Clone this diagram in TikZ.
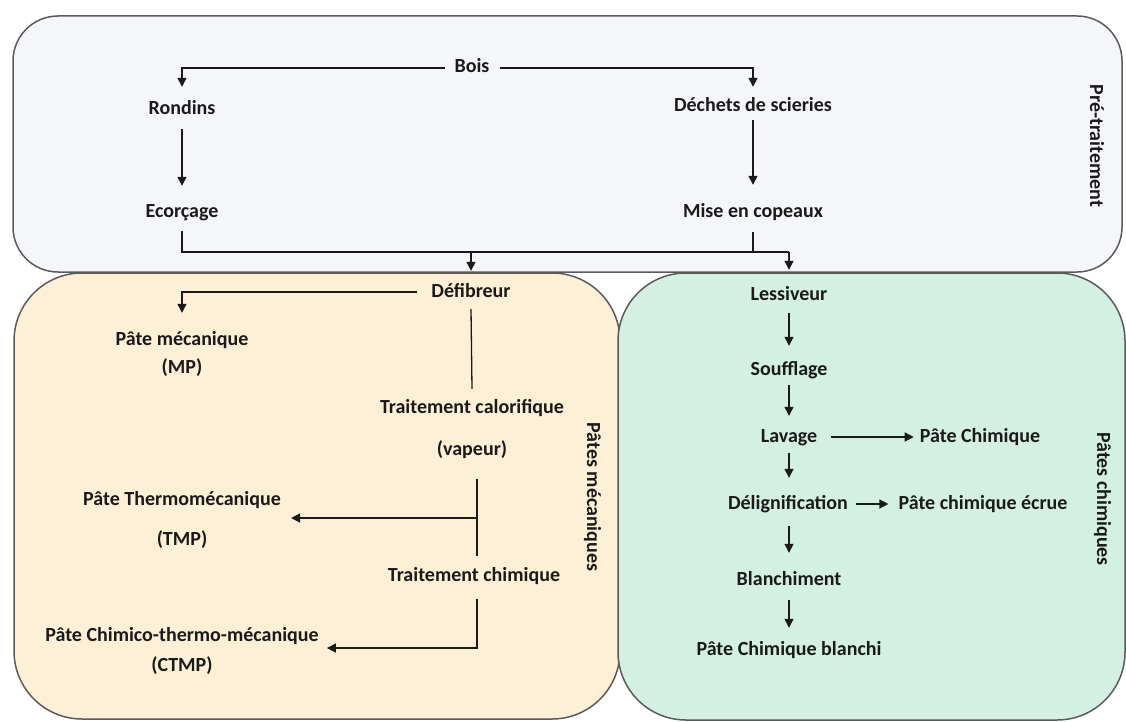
\documentclass[tikz,border=0pt]{standalone}
\usepackage{fontspec}
\setmainfont{Carlito}
\usetikzlibrary{arrows.meta,calc}
\definecolor{topfill}{HTML}{F5F6FA}
\definecolor{mechfill}{HTML}{FDF0D6}
\definecolor{chemfill}{HTML}{D4F0E3}
\definecolor{boxline}{HTML}{5A5A5A}
\definecolor{ink}{HTML}{1A1A1A}
\begin{document}
\begin{tikzpicture}[x=1pt,y=-1pt,
  txt/.style={font=\fontsize{20}{24}\selectfont\bfseries, text=ink, inner sep=0pt, text height=14pt, text depth=4pt},
  side/.style={txt, rotate=-90},
  ln/.style={draw=ink, line width=1.3pt},
  arr/.style={ln, -{Triangle[length=9pt,width=9pt]}},
  panel/.style={draw=boxline, line width=1.5pt}]
\useasboundingbox (0,0) rectangle (1126,722);
% panels
\draw[panel, fill=topfill, rounded corners=45pt] (13,16) rectangle (1122,272);
\draw[panel, fill=mechfill, rounded corners=68pt] (14,273) rectangle (620,719);
\draw[panel, fill=chemfill, rounded corners=68pt] (618,273) rectangle (1125,720);
% top nodes
\node[txt] (bois) at (472,68) {Bois};
\node[txt] (ron) at (182,110) {Rondins};
\node[txt] (dec) at (753,107) {Déchets de scieries};
\node[txt] (eco) at (182,212) {Ecorçage};
\node[txt] (mise) at (753,212) {Mise en copeaux};
\node[side] (pre) at (1095,146) {Pré-traitement};
% mechanical nodes
\node[txt] (defi) at (471,292) {Défibreur};
\node[txt] (mp1) at (182,340) {Pâte mécanique};
\node[txt] (mp2) at (182,368) {(MP)};
\node[txt] (cal) at (472,408) {Traitement calorifique};
\node[txt] (vap) at (472,450) {(vapeur)};
\node[txt] (tmp1) at (182,500) {Pâte Thermomécanique};
\node[txt] (tmp2) at (182,540) {(TMP)};
\node[txt] (tch) at (474,576) {Traitement chimique};
\node[txt] (ctmp1) at (182,636) {Pâte Chimico-thermo-mécanique};
\node[txt] (ctmp2) at (182,666) {(CTMP)};
\node[side] (pm) at (592,497) {Pâtes mécaniques};
% chemical nodes
\node[txt] (less) at (789,295) {Lessiveur};
\node[txt] (souf) at (789,370) {Soufflage};
\node[txt] (lav) at (789,437) {Lavage};
\node[txt] (pc) at (980,437) {Pâte Chimique};
\node[txt] (del) at (788,504) {Délignification};
\node[txt] (pce) at (983,504) {Pâte chimique écrue};
\node[txt] (blan) at (789,580) {Blanchiment};
\node[txt] (pcb) at (789,650) {Pâte Chimique blanchi};
\node[side] (pch) at (1102,499) {Pâtes chimiques};
% junctions
\coordinate (jr) at (789,252);
\coordinate (ja) at (477,479);
\coordinate (jb) at (477,556);
\coordinate (jt) at (477,518);
\coordinate (jc) at (477,648);
% top connectors
\draw[arr] ([xshift=-9pt]bois.west) -| ([yshift=14pt]ron.north);
\draw[arr] ([xshift=10pt]bois.east) -| ([yshift=11pt]dec.north);
\draw[arr] ([yshift=-10pt]ron.south) -- ([yshift=17pt]eco.north);
\draw[arr] ([yshift=-4pt]dec.south) -- ([yshift=18pt]mise.north);
\draw[ln] ([yshift=-10pt]eco.south) |- (jr);
\draw[ln] ([yshift=-11pt]mise.south) -- (mise.south |- jr);
\draw[arr] (defi.north |- jr) -- ([yshift=12pt]defi.north);
\draw[arr] (jr) -- ([yshift=16pt]less.north);
% mechanical connectors
\draw[arr] ([xshift=-14pt]defi.west) -| ([yshift=18pt]mp1.north);
\draw[ln] ([yshift=-8pt]defi.south) -- ([yshift=10pt]cal.north);
\draw[ln] (ja) -- (jb);
\draw[arr] (jt) -- ([xshift=10pt]tmp1.east |- jt);
\draw[arr] ([yshift=-14pt]tch.south -| jc) -- (jc) -- ([xshift=8pt]ctmp1.east |- jc);
% chemical connectors
\draw[arr] ([yshift=-9pt]less.south) -- ([yshift=15pt]souf.north);
\draw[arr] ([yshift=-6pt]souf.south) -- ([yshift=12pt]lav.north);
\draw[arr] ([yshift=-7pt]lav.south) -- ([yshift=17pt]del.north -| lav.south);
\draw[arr] ([yshift=-13pt]del.south -| lav.south) -- ([yshift=18pt]blan.north);
\draw[arr] ([yshift=-11pt]blan.south) -- ([yshift=13pt]pcb.north);
\draw[arr] ([xshift=14pt]lav.east) -- ([xshift=-6pt]pc.west);
\draw[arr] ([xshift=8pt]del.east) -- ([xshift=-10pt]pce.west);
\end{tikzpicture}
\end{document}
